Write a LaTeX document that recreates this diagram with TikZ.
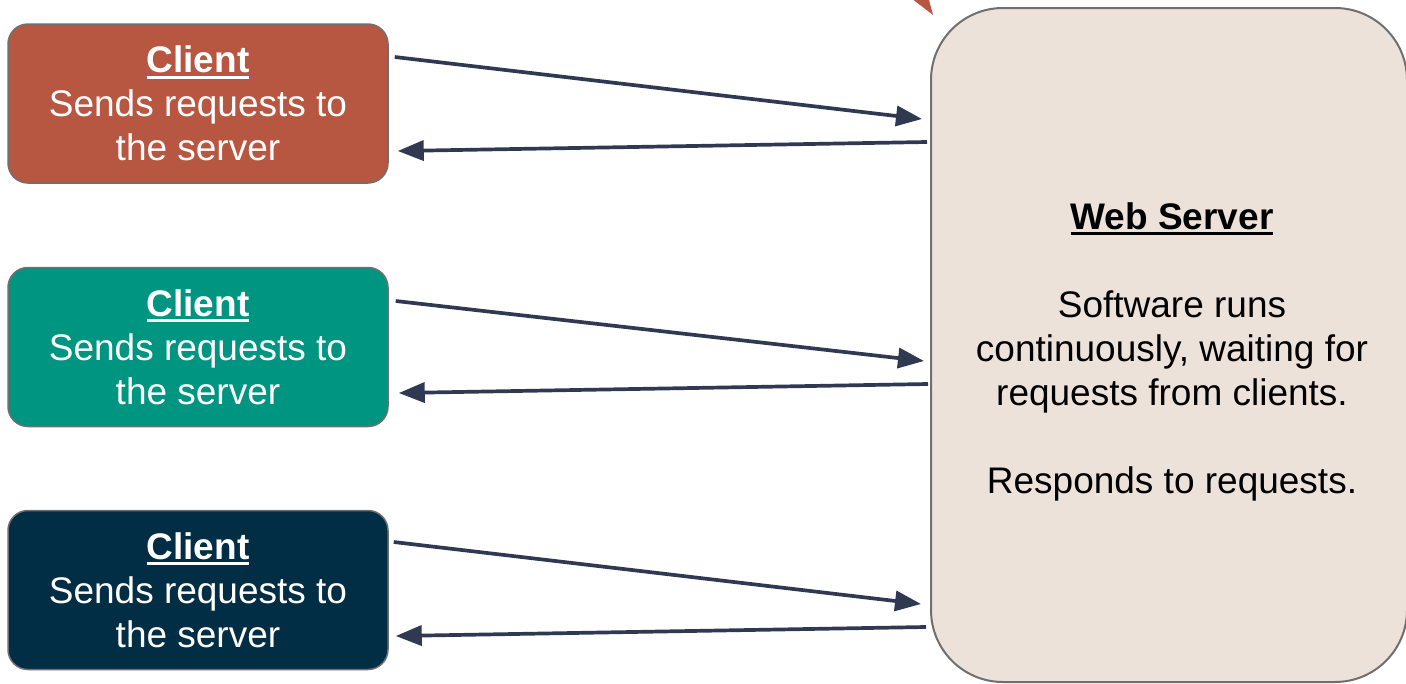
\documentclass[tikz,border=0pt]{standalone}
\usepackage{fontspec}
\setmainfont{Liberation Sans}
\usetikzlibrary{arrows.meta}
\definecolor{cred}{HTML}{B85741}
\definecolor{cteal}{HTML}{009581}
\definecolor{cnavy}{HTML}{012D45}
\definecolor{srvfill}{HTML}{EDE2D9}
\definecolor{bordergray}{HTML}{6F6F6F}
\definecolor{arrcol}{HTML}{2F3A52}
\newcommand\myul[2][-6pt]{\leavevmode\setbox0\hbox{#2}\rlap{\rule[#1]{\wd0}{3.2pt}}\box0}
\tikzset{
  clientbox/.style={draw=bordergray, line width=1.5pt, rounded corners=20pt,
    minimum width=380pt, minimum height=159pt, align=center, text=white,
    font=\fontsize{37}{44}\selectfont, inner sep=0pt},
  srvbox/.style={draw=bordergray, line width=2pt, rounded corners=72pt,
    fill=srvfill, minimum width=476pt, minimum height=674pt, inner sep=0pt},
  srvtext/.style={align=center, text=black, font=\fontsize{37}{44}\selectfont, inner sep=0pt},
  conn/.style={draw=arrcol, line width=3.7pt, -{Triangle[length=26pt,width=20pt]}}
}
\begin{document}
\begin{tikzpicture}[x=1pt,y=-1pt]
\useasboundingbox (0,0) rectangle (1406,683);
\clip (0,0) rectangle (1406,683);
% partial orange arrow tip at top
\fill[cred] (911,-2) -- (928.5,-2) -- (933,15) -- cycle;
% web server
\node[srvbox] (srv) at (1169,345) {};
\node[srvtext] (srvtxt) at (1172,351.5) {\textbf{\myul[-6pt]{Web Server}}\\[44pt]Software runs\\continuously, waiting for\\requests from clients.\\[44pt]Responds to requests.};
% clients
\node[clientbox, fill=cred] (c1) at (198,103.5) {\textbf{\myul{Client}}\\Sends requests to\\the server};
\node[clientbox, fill=cteal] (c2) at (198,347) {\textbf{\myul{Client}}\\Sends requests to\\the server};
\node[clientbox, fill=cnavy] (c3) at (198,590) {\textbf{\myul{Client}}\\Sends requests to\\the server};
% connectors
\draw[conn] ([shift={(6,-46.5)}]c1.east) -- ([shift={(-8,-226)}]srv.west);
\draw[conn] ([shift={(-3,-203)}]srv.west) -- ([shift={(9,47.5)}]c1.east);
\draw[conn] ([shift={(7,-46)}]c2.east) -- ([shift={(-6,16)}]srv.west);
\draw[conn] ([shift={(-2,39)}]srv.west) -- ([shift={(10,46)}]c2.east);
\draw[conn] ([shift={(5,-48)}]c3.east) -- ([shift={(-9,259)}]srv.west);
\draw[conn] ([shift={(-4,282)}]srv.west) -- ([shift={(7,46)}]c3.east);
\end{tikzpicture}
\end{document}
